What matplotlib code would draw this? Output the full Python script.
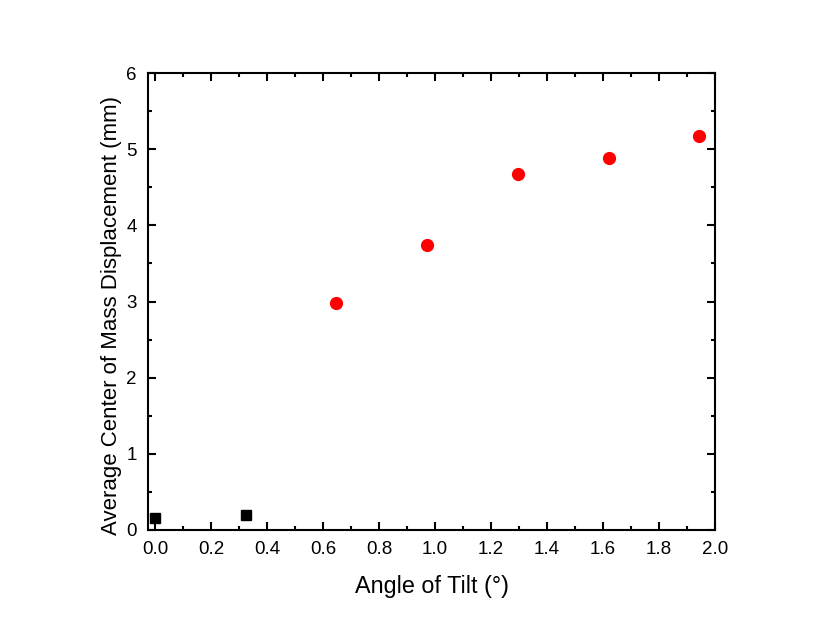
import matplotlib
matplotlib.use("Agg")
import matplotlib.pyplot as plt
from matplotlib.ticker import MultipleLocator

plt.rcParams['font.family'] = ['Liberation Sans', 'DejaVu Sans']

sq_x = [0.0, 0.324]
sq_y = [0.16, 0.197]
ci_x = [0.648, 0.972, 1.296, 1.62, 1.944]
ci_y = [2.98, 3.74, 4.67, 4.89, 5.17]

fig = plt.figure(figsize=(8.3, 6.36), dpi=100)
ax = fig.add_axes([148/830, 1-530/636, (715-148)/830, (530-73)/636])
ax.plot(sq_x, sq_y, 's', color='black', markersize=7, linestyle='none')
ax.plot(ci_x, ci_y, 'o', color='red', markersize=8.5, linestyle='none')
ax.set_xlim(-0.025, 2.0)
ax.set_ylim(0, 6)
ax.xaxis.set_major_locator(MultipleLocator(0.2))
ax.xaxis.set_minor_locator(MultipleLocator(0.1))
ax.yaxis.set_major_locator(MultipleLocator(1))
ax.yaxis.set_minor_locator(MultipleLocator(0.5))
ax.xaxis.set_major_formatter(plt.FuncFormatter(lambda v, p: f"{v:.1f}"))
ax.yaxis.set_major_formatter(plt.FuncFormatter(lambda v, p: f"{v:.0f}"))
ax.tick_params(which='both', direction='in', top=True, right=True, width=1.5, labelsize=13.5)
ax.tick_params(which='major', length=6)
ax.tick_params(which='minor', length=3)
ax.tick_params(axis='x', which='major', pad=8)
ax.tick_params(axis='y', which='major', pad=8)
for s in ax.spines.values():
    s.set_linewidth(1.5)
ax.set_xlabel('Angle of Tilt (°)', fontsize=16.8, labelpad=12)
ax.set_ylabel('Average Center of Mass Displacement (mm)', fontsize=16)
ax.yaxis.set_label_coords(-0.045, 0.47)
fig.savefig('out.png', dpi=100)
